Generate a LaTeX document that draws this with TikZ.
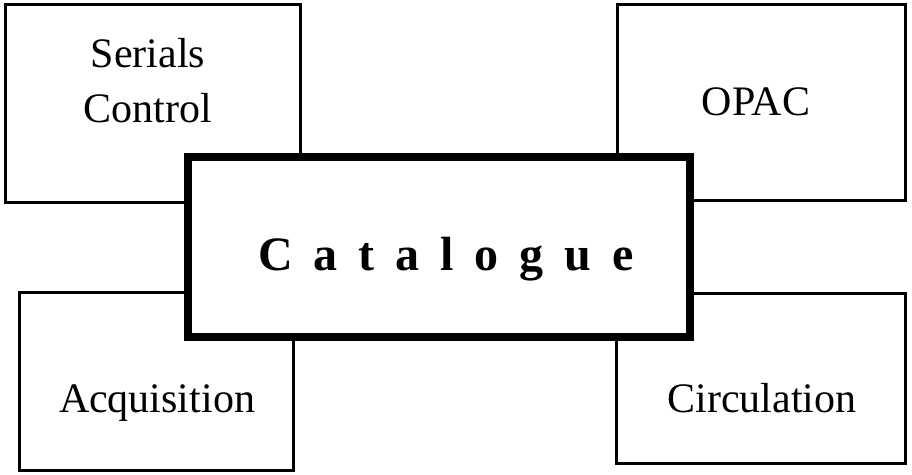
\documentclass[tikz,border=0pt]{standalone}
\usepackage{fontspec}
\setmainfont{Liberation Serif}
\begin{document}
\begin{tikzpicture}[x=1pt,y=-1pt,
  smallbox/.style={draw=black,line width=3pt,fill=white,rectangle,inner sep=0pt},
  mainbox/.style={draw=black,line width=7.5pt,fill=white,rectangle,inner sep=0pt},
  lbl/.style={font=\fontsize{42}{55}\selectfont,inner sep=0pt,align=center},
  mainlbl/.style={font=\fontsize{48}{48}\selectfont\bfseries,inner sep=0pt}]
\useasboundingbox (0,0) rectangle (912,474);
\node[smallbox,minimum width=295pt,minimum height=198pt] (serials) at (152.5,103) {};
\node[smallbox,minimum width=288pt,minimum height=196pt] (opac) at (761,102) {};
\node[smallbox,minimum width=274pt,minimum height=178pt] (acq) at (156,381) {};
\node[smallbox,minimum width=289pt,minimum height=170pt] (circ) at (760.5,378) {};
\node[mainbox,minimum width=502pt,minimum height=180pt] (cat) at (439,247) {};
\node[lbl] (serialsT) at (148,81) {Serials\\Control};
\node[lbl,anchor=base] (opacT) at (756,115) {OPAC};
\node[lbl,anchor=base] (acqT) at (157,412) {Acquisition};
\node[lbl,anchor=base] (circT) at (762,412) {Circulation};
\node[mainlbl,anchor=base] (catT) at (446,270) {C\hspace{21pt}a\hspace{21pt}t\hspace{21pt}a\hspace{21pt}l\hspace{21pt}o\hspace{21pt}g\hspace{21pt}u\hspace{21pt}e};
\end{tikzpicture}
\end{document}
